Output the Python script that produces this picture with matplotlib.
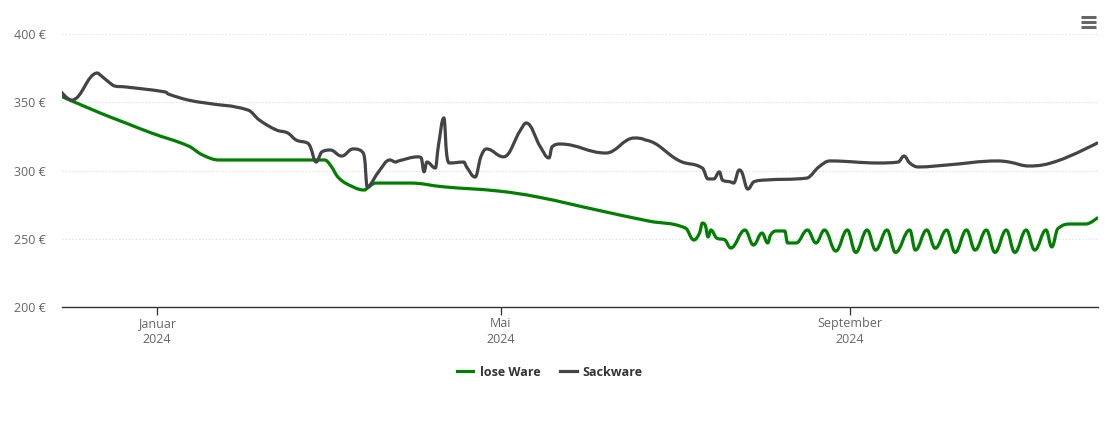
import matplotlib
matplotlib.use("Agg")
import matplotlib.pyplot as plt
import matplotlib.dates as mdates
from matplotlib.lines import Line2D
from matplotlib.path import Path
from matplotlib.patches import PathPatch
import pandas as pd

plt.rcParams["font.family"] = ["Open Sans", "DejaVu Sans"]

# lose Ware
lose_dates = [
    "2023-11-28", "2023-12-12", "2023-12-21", "2023-12-30", "2024-01-12", "2024-01-17",
    "2024-01-23", "2024-02-29", "2024-03-02", "2024-03-05", "2024-03-10", "2024-03-14",
    "2024-03-15", "2024-03-18", "2024-03-30", "2024-04-11", "2024-04-30", "2024-05-14",
    "2024-06-04", "2024-06-22", "2024-07-05", "2024-07-08", "2024-07-10", "2024-07-11",
    "2024-07-12", "2024-07-13", "2024-07-14", "2024-07-16", "2024-07-19", "2024-07-21",
    "2024-07-26", "2024-07-29", "2024-08-01", "2024-08-03", "2024-08-04", "2024-08-06",
    "2024-08-09", "2024-08-10", "2024-08-13", "2024-08-17", "2024-08-20", "2024-08-23",
    "2024-08-27", "2024-08-31", "2024-09-03", "2024-09-07", "2024-09-10", "2024-09-14",
    "2024-09-17", "2024-09-22", "2024-09-24", "2024-09-28", "2024-10-01", "2024-10-05",
    "2024-10-08", "2024-10-12", "2024-10-15", "2024-10-19", "2024-10-22", "2024-10-26",
    "2024-10-29", "2024-11-02", "2024-11-05", "2024-11-09", "2024-11-11", "2024-11-13",
    "2024-11-18", "2024-11-23", "2024-11-27",
]
lose_values = [
    354.6, 342.1, 334.8, 327.5, 318.0, 311.4,
    307.7, 307.7, 304.0, 294.5, 288.0, 285.7,
    287.0, 290.8, 290.8, 288.0, 285.0, 280.6,
    271.0, 263.0, 257.9, 249.1, 254.2, 261.5,
    260.0, 251.3, 256.4, 250.5, 249.1, 243.2,
    256.4, 245.4, 254.2, 246.9, 252.7, 255.7,
    255.7, 246.9, 246.9, 256.4, 246.9, 256.4,
    241.0, 256.4, 240.0, 256.4, 241.7, 256.4,
    240.0, 256.4, 241.7, 256.4, 243.0, 256.4,
    240.0, 256.4, 241.7, 256.4, 240.0, 256.4,
    240.0, 256.4, 241.7, 256.4, 244.0, 257.1,
    260.8, 260.8, 265.2,
]

# Sackware
sack_dates = [
    "2023-11-28", "2023-12-02", "2023-12-11", "2023-12-12", "2023-12-15", "2023-12-17",
    "2023-12-21", "2024-01-04", "2024-01-05", "2024-01-12", "2024-01-18", "2024-02-02",
    "2024-02-06", "2024-02-12", "2024-02-16", "2024-02-19", "2024-02-23", "2024-02-24",
    "2024-02-26", "2024-02-28", "2024-03-02", "2024-03-06", "2024-03-10", "2024-03-13",
    "2024-03-14", "2024-03-15", "2024-03-16", "2024-03-19", "2024-03-23", "2024-03-25",
    "2024-03-26", "2024-04-02", "2024-04-03", "2024-04-04", "2024-04-05", "2024-04-08",
    "2024-04-09", "2024-04-11", "2024-04-12", "2024-04-13", "2024-04-18", "2024-04-19",
    "2024-04-22", "2024-04-24", "2024-04-26", "2024-05-02", "2024-05-08", "2024-05-10",
    "2024-05-15", "2024-05-18", "2024-05-19", "2024-05-22", "2024-06-07", "2024-06-17",
    "2024-06-21", "2024-07-03", "2024-07-11", "2024-07-13", "2024-07-15", "2024-07-17",
    "2024-07-18", "2024-07-21", "2024-07-22", "2024-07-24", "2024-07-25", "2024-07-27",
    "2024-07-29", "2024-08-02", "2024-08-17", "2024-08-21", "2024-08-25", "2024-09-11",
    "2024-09-18", "2024-09-20", "2024-09-22", "2024-09-25", "2024-10-05", "2024-10-23",
    "2024-10-27", "2024-11-03", "2024-11-13", "2024-11-27",
]
sack_values = [
    358.2, 351.6, 371.4, 370.0, 364.8, 361.9,
    361.2, 357.5, 356.0, 351.6, 349.5, 344.3,
    337.0, 329.7, 327.5, 322.3, 320.1, 317.2,
    306.2, 313.6, 315.0, 310.6, 315.8, 314.3,
    310.0, 288.0, 289.4, 299.0, 307.7, 306.2,
    307.0, 310.0, 309.2, 299.0, 306.2, 301.8,
    317.2, 338.5, 311.4, 305.5, 306.2, 302.6,
    295.2, 310.0, 315.8, 310.0, 329.7, 334.8,
    317.2, 309.2, 317.2, 319.4, 312.8, 323.8,
    322.3, 307.0, 301.8, 293.8, 293.8, 299.0,
    293.0, 291.6, 290.8, 300.4, 298.2, 286.4,
    291.6, 293.0, 294.5, 302.6, 307.0, 305.5,
    306.2, 310.6, 305.5, 302.6, 304.0, 307.0,
    306.2, 303.3, 307.0, 320.1,
]

y_ticks = [200, 250, 300, 350, 400]
x_ticks = ["2024-01-01", "2024-05-01", "2024-09-01"]
x_labels = ["Januar\n2024", "Mai\n2024", "September\n2024"]

green = "#008000"
grey = "#434348"


def spline_path(xs, ys, smoothing=1.5):
    # bezier path through the points, like a highcharts "spline" series
    n = len(xs)
    denom = smoothing + 1
    lc = [(xs[i], ys[i]) for i in range(n)]
    rc = [(xs[i], ys[i]) for i in range(n)]
    for i in range(1, n - 1):
        x, y = xs[i], ys[i]
        px, py = xs[i - 1], ys[i - 1]
        nx, ny = xs[i + 1], ys[i + 1]
        lx = (smoothing * x + px) / denom
        ly = (smoothing * y + py) / denom
        rx = (smoothing * x + nx) / denom
        ry = (smoothing * y + ny) / denom
        if rx != lx:
            corr = (ry - ly) * (rx - x) / (rx - lx) + y - ry
            ly += corr
            ry += corr
        if ly > py and ly > y:
            ly = max(py, y)
            ry = 2 * y - ly
        elif ly < py and ly < y:
            ly = min(py, y)
            ry = 2 * y - ly
        if ry > ny and ry > y:
            ry = max(ny, y)
            ly = 2 * y - ry
        elif ry < ny and ry < y:
            ry = min(ny, y)
            ly = 2 * y - ry
        lc[i] = (lx, ly)
        rc[i] = (rx, ry)
    verts = [(xs[0], ys[0])]
    codes = [Path.MOVETO]
    for i in range(1, n):
        verts += [rc[i - 1], lc[i], (xs[i], ys[i])]
        codes += [Path.CURVE4] * 3
    return Path(verts, codes)


fig = plt.figure(figsize=(11.1, 4.22), dpi=100)
ax = fig.add_axes([62 / 1110, 1 - 307 / 422, (1098 - 62) / 1110, (307 - 34) / 422])

for dates, values, col, name in [(lose_dates, lose_values, green, "lose Ware"),
                                 (sack_dates, sack_values, grey, "Sackware")]:
    xs = list(mdates.date2num(pd.to_datetime(dates)))
    patch = PathPatch(spline_path(xs, values), fill=False, edgecolor=col, lw=2.3,
                      joinstyle="round", capstyle="round", zorder=3)
    ax.add_patch(patch)
    ax.plot([], [], color=col, lw=2.3, label=name)

ax.set_xlim(pd.Timestamp("2023-11-28 13:00"), pd.Timestamp("2024-11-27 07:00"))
ax.set_ylim(200, 400)

ax.set_yticks(y_ticks)
ax.set_yticklabels([f"{v} €" for v in y_ticks])
ax.set_xticks(pd.to_datetime(x_ticks))
ax.set_xticklabels(x_labels, linespacing=1.25)

for v in y_ticks[1:]:
    ax.axhline(v, color="#d8d8d8", lw=0.8, ls=(0, (1, 2)), zorder=1)

for s in ["top", "right", "left"]:
    ax.spines[s].set_visible(False)
ax.spines["bottom"].set_color("#333333")
ax.spines["bottom"].set_linewidth(1.0)

ax.tick_params(axis="y", length=0, pad=11.5, labelsize=9, labelcolor="#666666")
ax.tick_params(axis="x", length=6, width=0.9, color="#333333", pad=1.5,
               labelsize=9, labelcolor="#666666")

leg = fig.legend(loc="center", bbox_to_anchor=(550 / 1110, 1 - 372 / 422), ncol=2,
                 frameon=False, handlelength=1.3, handletextpad=0.5, columnspacing=1.6,
                 prop={"weight": "bold", "size": 9})
for t in leg.get_texts():
    t.set_color("#333333")

# menu icon
for yy in [17, 22, 27]:
    fig.add_artist(Line2D([1081 / 1110, 1096 / 1110], [1 - yy / 422, 1 - yy / 422],
                          color="#666666", lw=2.2, solid_capstyle="butt"))

fig.savefig("out.png", dpi=100)
